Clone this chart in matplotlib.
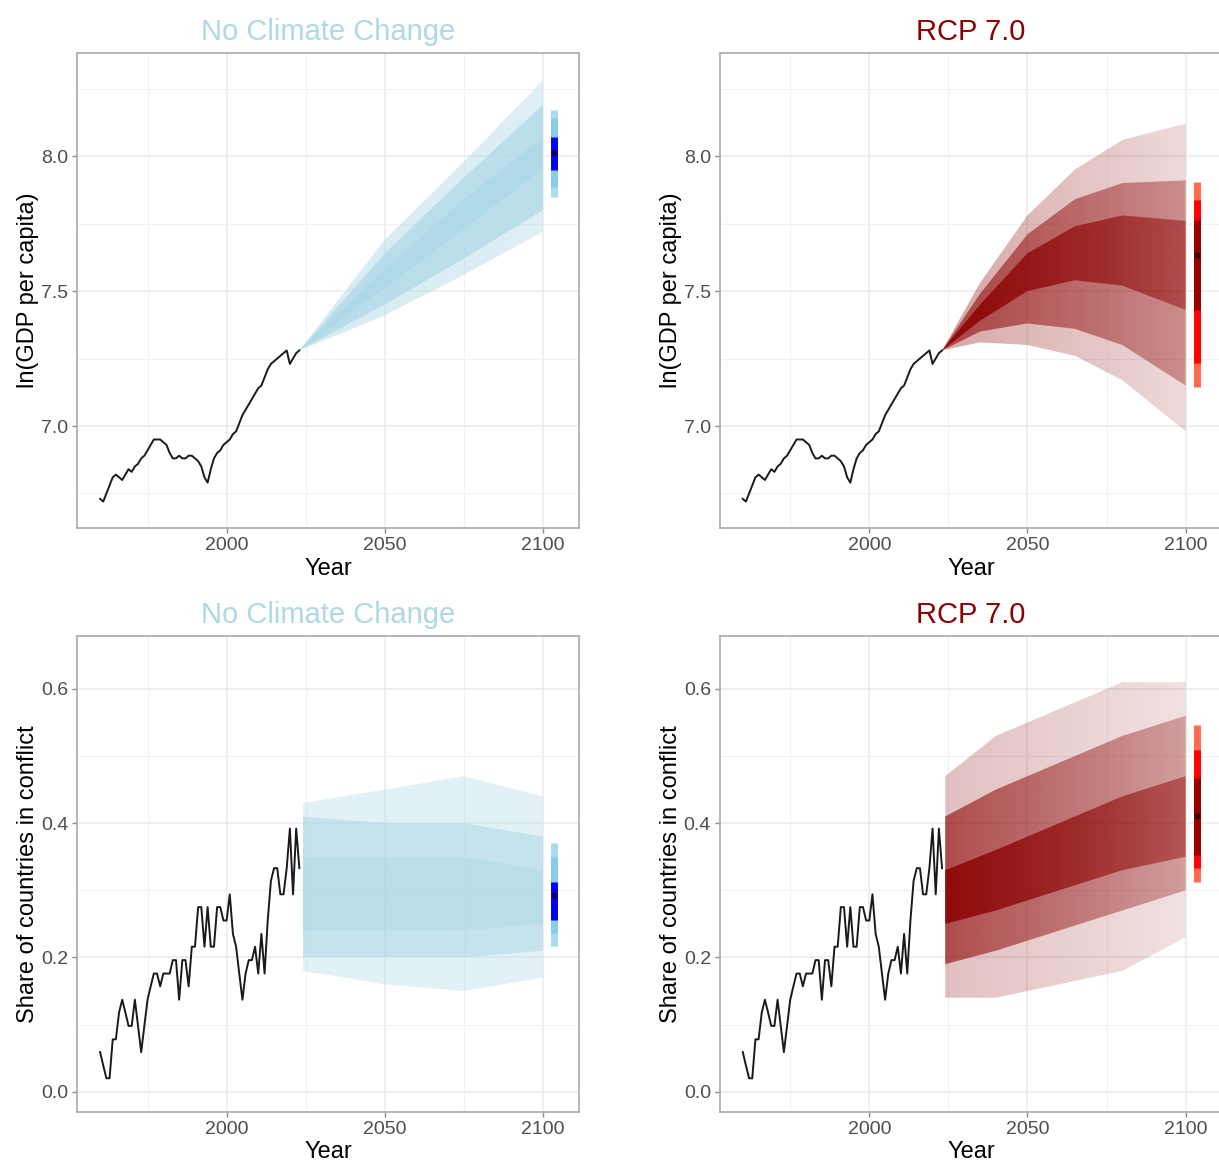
import numpy as np
import matplotlib
matplotlib.use('Agg')
import matplotlib.pyplot as plt
from matplotlib.colors import to_rgb

plt.rcParams['font.family'] = ['Liberation Sans', 'DejaVu Sans']

# =============================================================================
# Data
# =============================================================================
hist_years = list(range(1960, 2024))
gdp_hist = [6.73, 6.72, 6.75, 6.78, 6.81, 6.82, 6.81, 6.80, 6.82, 6.84,
            6.83, 6.85, 6.86, 6.88, 6.89, 6.91, 6.93, 6.95, 6.95, 6.95,
            6.94, 6.93, 6.90, 6.88, 6.88, 6.89, 6.88, 6.88, 6.89, 6.89,
            6.88, 6.87, 6.85, 6.81, 6.79, 6.84, 6.88, 6.90, 6.91, 6.93,
            6.94, 6.95, 6.97, 6.98, 7.01, 7.04, 7.06, 7.08, 7.10, 7.12,
            7.14, 7.15, 7.18, 7.21, 7.23, 7.24, 7.25, 7.26, 7.27, 7.28,
            7.23, 7.25, 7.27, 7.28]
conflict_hist = [0.059, 0.039, 0.020, 0.020, 0.078, 0.078, 0.118, 0.137, 0.118, 0.098,
                 0.098, 0.137, 0.098, 0.059, 0.098, 0.137, 0.157, 0.176, 0.176, 0.157,
                 0.176, 0.176, 0.176, 0.196, 0.196, 0.137, 0.196, 0.196, 0.157, 0.216,
                 0.216, 0.275, 0.275, 0.216, 0.275, 0.216, 0.216, 0.275, 0.275, 0.255,
                 0.255, 0.294, 0.235, 0.216, 0.176, 0.137, 0.176, 0.196, 0.196, 0.216,
                 0.176, 0.235, 0.176, 0.255, 0.314, 0.333, 0.333, 0.294, 0.294, 0.333,
                 0.392, 0.294, 0.392, 0.333]

# projected simulation envelopes (min, 2.5%, 25%, 75%, 97.5%, max)
gdp_base_years = [2023, 2050, 2075, 2100]
gdp_base = {'min': [7.28, 7.41, 7.56, 7.72], 'lo': [7.28, 7.45, 7.62, 7.80],
            'q25': [7.28, 7.51, 7.73, 7.95], 'q75': [7.28, 7.58, 7.84, 8.07],
            'hi': [7.28, 7.64, 7.92, 8.19], 'max': [7.28, 7.69, 7.98, 8.28]}

gdp_rcp_years = [2023, 2035, 2050, 2065, 2080, 2100]
gdp_rcp = {'min': [7.28, 7.31, 7.30, 7.26, 7.17, 6.98],
           'lo': [7.28, 7.35, 7.38, 7.36, 7.30, 7.15],
           'q25': [7.28, 7.39, 7.50, 7.54, 7.52, 7.43],
           'q75': [7.28, 7.45, 7.64, 7.74, 7.78, 7.76],
           'hi': [7.28, 7.49, 7.71, 7.84, 7.90, 7.91],
           'max': [7.28, 7.53, 7.78, 7.95, 8.06, 8.12]}

conf_base_years = [2024, 2050, 2075, 2100]
conf_base = {'min': [0.18, 0.16, 0.15, 0.17], 'lo': [0.20, 0.20, 0.20, 0.21],
             'q25': [0.24, 0.24, 0.24, 0.25], 'q75': [0.35, 0.35, 0.35, 0.33],
             'hi': [0.41, 0.40, 0.40, 0.38], 'max': [0.43, 0.45, 0.47, 0.44]}

conf_rcp_years = [2024, 2040, 2060, 2080, 2100]
conf_rcp = {'min': [0.14, 0.14, 0.16, 0.18, 0.23],
            'lo': [0.19, 0.21, 0.24, 0.27, 0.30],
            'q25': [0.25, 0.27, 0.30, 0.33, 0.35],
            'q75': [0.33, 0.36, 0.40, 0.44, 0.47],
            'hi': [0.41, 0.45, 0.49, 0.53, 0.56],
            'max': [0.47, 0.53, 0.57, 0.61, 0.61]}

# 2100 intervals: lo95, lo80, lo50, median, hi50, hi80, hi95
gdp_base_int = [7.849, 7.886, 7.948, 8.01, 8.072, 8.14, 8.170]
gdp_rcp_int = [7.146, 7.232, 7.430, 7.633, 7.763, 7.837, 7.905]
conf_base_int = [0.217, 0.236, 0.256, 0.293, 0.313, 0.350, 0.371]
conf_rcp_int = [0.313, 0.333, 0.353, 0.410, 0.467, 0.509, 0.546]

interval_year = 2103.5


def draw_fan(ax, years, q, color, alphas):
    # three nested bands, each shaded with an alpha ramp along the x axis
    for (a, b), (a0, a1) in zip([('min', 'max'), ('lo', 'hi'), ('q25', 'q75')], alphas):
        coll = ax.fill_between(years, q[a], q[b], facecolor='none', edgecolor='none', lw=0)
        path = coll.get_paths()[0]
        img = np.zeros((1, 256, 4))
        img[..., :3] = to_rgb(color)
        img[0, :, 3] = np.linspace(a0, a1, 256)
        im = ax.imshow(img, extent=[years[0], years[-1], min(q[a]), max(q[b])],
                       aspect='auto', interpolation='bilinear', origin='lower', zorder=2)
        im.set_clip_path(path, transform=ax.transData)


def draw_interval(ax, vals, colors):
    outer, mid, inner = colors
    ax.plot([interval_year] * 2, [vals[0], vals[6]], color=outer, lw=5, solid_capstyle='butt', zorder=4)
    ax.plot([interval_year] * 2, [vals[1], vals[5]], color=mid, lw=5, solid_capstyle='butt', zorder=4)
    ax.plot([interval_year] * 2, [vals[2], vals[4]], color=inner, lw=5, solid_capstyle='butt', zorder=4)
    ax.plot(interval_year, vals[3], marker='o', ms=4.5, color='black', alpha=0.65, mec='none', zorder=5)


def style_axis(ax, ylim, yticks, yminor, ylabel, title, tcolor):
    ax.set_xlim(1952.8, 2111.5)
    ax.set_ylim(*ylim)
    ax.set_xticks([2000, 2050, 2100])
    ax.set_xticks([1975, 2025, 2075], minor=True)
    ax.set_yticks(yticks)
    ax.set_yticks(yminor, minor=True)
    ax.set_axisbelow(True)
    ax.grid(which='major', color='#EBEBEB', lw=1.1)
    ax.grid(which='minor', color='#F1F1F1', lw=0.8)
    ax.tick_params(which='major', length=3.5, width=1, color='#8A8A8A',
                   labelsize=14, labelcolor='#4D4D4D', pad=3)
    ax.tick_params(which='minor', length=0)
    for s in ax.spines.values():
        s.set_color('#B0B0B0')
        s.set_linewidth(1.3)
    ax.set_xlabel('Year', fontsize=17, labelpad=2.5)
    ax.set_ylabel(ylabel, fontsize=17)
    ax.yaxis.set_label_coords(-0.076, 0.5)
    ax.set_title(title, fontsize=21, color=tcolor, pad=9)


fig = plt.figure(figsize=(12.19, 11.64), dpi=100)
W, H = 1219, 1164
pos = {
    'tl': [77.3 / W, 1 - 528.3 / H, 502 / W, 475.6 / H],
    'tr': [720 / W, 1 - 528.3 / H, 502 / W, 475.6 / H],
    'bl': [77.3 / W, 1 - 1111.5 / H, 502 / W, 475.6 / H],
    'br': [720 / W, 1 - 1111.5 / H, 502 / W, 475.6 / H],
}
axes = {k: fig.add_axes(v) for k, v in pos.items()}

blue_int = ['#A9DCEF', '#87CEEB', '#0000FF']
red_int = ['#FF6A4D', '#FF0000', '#9B0000']

# GDP, no climate change
ax = axes['tl']
draw_fan(ax, gdp_base_years, gdp_base, '#ADD8E6', [(0.5, 0.4), (0.7, 0.7), (0.75, 0.75)])
ax.plot(hist_years, gdp_hist, color='#1A1A1A', lw=1.4, zorder=3)
draw_interval(ax, gdp_base_int, blue_int)
style_axis(ax, (6.621, 8.383), [7.0, 7.5, 8.0], [6.75, 7.25, 7.75, 8.25],
           'ln(GDP per capita)', 'No Climate Change', '#ADD8E6')

# GDP, RCP 7.0
ax = axes['tr']
draw_fan(ax, gdp_rcp_years, gdp_rcp, '#8B0000', [(0.35, 0.15), (0.6, 0.35), (0.9, 0.45)])
ax.plot(hist_years, gdp_hist, color='#1A1A1A', lw=1.4, zorder=3)
draw_interval(ax, gdp_rcp_int, red_int)
style_axis(ax, (6.621, 8.383), [7.0, 7.5, 8.0], [6.75, 7.25, 7.75, 8.25],
           'ln(GDP per capita)', 'RCP 7.0', '#8B0000')

# conflict, no climate change
ax = axes['bl']
draw_fan(ax, conf_base_years, conf_base, '#ADD8E6', [(0.35, 0.35), (0.55, 0.55), (0.45, 0.45)])
ax.plot(hist_years, conflict_hist, color='#1A1A1A', lw=1.4, zorder=3)
draw_interval(ax, conf_base_int, blue_int)
style_axis(ax, (-0.0295, 0.679), [0.0, 0.2, 0.4, 0.6], [0.1, 0.3, 0.5],
           'Share of countries in conflict', 'No Climate Change', '#ADD8E6')

# conflict, RCP 7.0
ax = axes['br']
draw_fan(ax, conf_rcp_years, conf_rcp, '#8B0000', [(0.25, 0.12), (0.6, 0.3), (0.85, 0.45)])
ax.plot(hist_years, conflict_hist, color='#1A1A1A', lw=1.4, zorder=3)
draw_interval(ax, conf_rcp_int, red_int)
style_axis(ax, (-0.0295, 0.679), [0.0, 0.2, 0.4, 0.6], [0.1, 0.3, 0.5],
           'Share of countries in conflict', 'RCP 7.0', '#8B0000')

fig.savefig('out.png', dpi=100)
